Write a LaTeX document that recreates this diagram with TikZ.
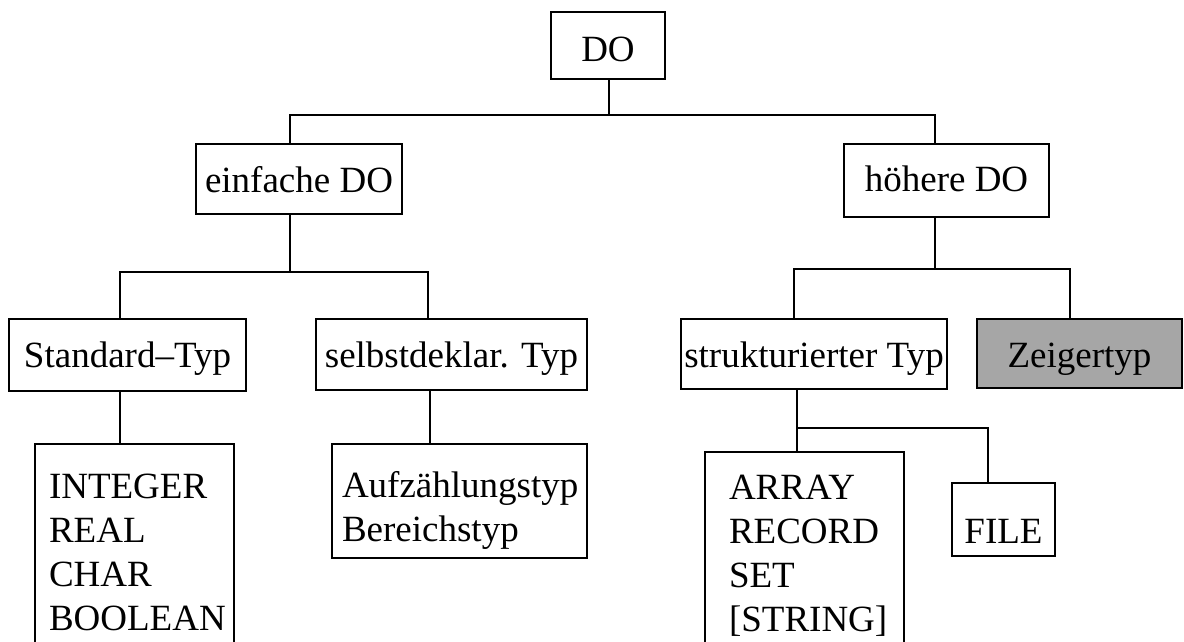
\documentclass[tikz,border=0pt]{standalone}
\usepackage{fontspec}
\setmainfont{Liberation Serif}
\definecolor{zeigergrau}{RGB}{166,166,166}

\begin{document}
\begin{tikzpicture}[x=1pt, y=-1pt,
    box/.style={draw, line width=1.3pt, inner sep=0pt, outer sep=0pt,
      anchor=north west, font=\fontsize{37}{44}\selectfont},
    liste/.style={box, align=left},
    conn/.style={line width=2pt}]
    \useasboundingbox (0,0) rectangle (1184,641);
    % Ebene 0 und 1
    \node[box, minimum width=114pt, text height=49pt, text depth=18pt] (do) at (551,12) {DO};
    \node[box, minimum width=206pt, text height=48pt, text depth=22pt] (ein) at (196,144) {einfache DO};
    \node[box, minimum width=205pt, text height=47pt, text depth=26pt] (hoe) at (844,144) {höhere DO};
    % Ebene 2
    \node[box, minimum width=237pt, text height=48pt, text depth=24pt] (std) at (9,319) {Standard–Typ};
    \node[box, minimum width=271pt, text height=48pt, text depth=23pt] (sel) at (316,319) {selbstdeklar. Typ};
    \node[box, minimum width=266pt, text height=48pt, text depth=22pt] (str) at (681,319) {strukturierter Typ};
    \node[box, fill=zeigergrau, minimum width=205pt, text height=48pt, text depth=21pt] (zeig) at (977,319) {Zeigertyp};
    % Ebene 3
    \node[liste, text width=171pt, inner xsep=14pt, text height=54pt, text depth=162pt] (ints) at (35,444) {INTEGER\\REAL\\CHAR\\BOOLEAN};
    \node[liste, text width=235pt, inner xsep=10pt, text height=53pt, text depth=61pt] (aufz) at (332,444) {Aufzählungstyp\\Bereichstyp};
    \node[liste, text width=151pt, inner xsep=24pt, text height=47pt, text depth=162pt] (arr) at (705,452) {ARRAY\\RECORD\\SET\\{[STRING]}};
    \node[box, minimum width=103pt, text height=60pt, text depth=13pt] (file) at (952,483) {FILE};
    % Verzweigungen
    \coordinate (j0) at (609,115);
    \coordinate (j1) at (290,272);
    \coordinate (j2) at (935,269);
    \coordinate (j3) at (797,428);
    \draw[conn] (do.south -| j0) -- (j0);
    \draw[conn] (ein.north -| j1) |- (j0) -| (hoe.north -| j2);
    \draw[conn] (ein.south -| j1) -- (j1);
    \draw[conn] ([xshift=-7.5pt]std.north) |- (j1) -| ([xshift=-23.5pt]sel.north);
    \draw[conn] (hoe.south -| j2) -- (j2);
    \draw[conn] ([xshift=-20pt]str.north) |- (j2) -| ([xshift=-9.5pt]zeig.north);
    \draw[conn] ([xshift=-7.5pt]std.south) -- ([xshift=-14.5pt]ints.north);
    \draw[conn] ([xshift=-21.5pt]sel.south) -- ([xshift=-29.5pt]aufz.north);
    \draw[conn] ([xshift=-17pt]str.south) -- ([xshift=-7.5pt]arr.north);
    \draw[conn] (j3) -| ([xshift=-15.5pt]file.north);
\end{tikzpicture}
\end{document}
